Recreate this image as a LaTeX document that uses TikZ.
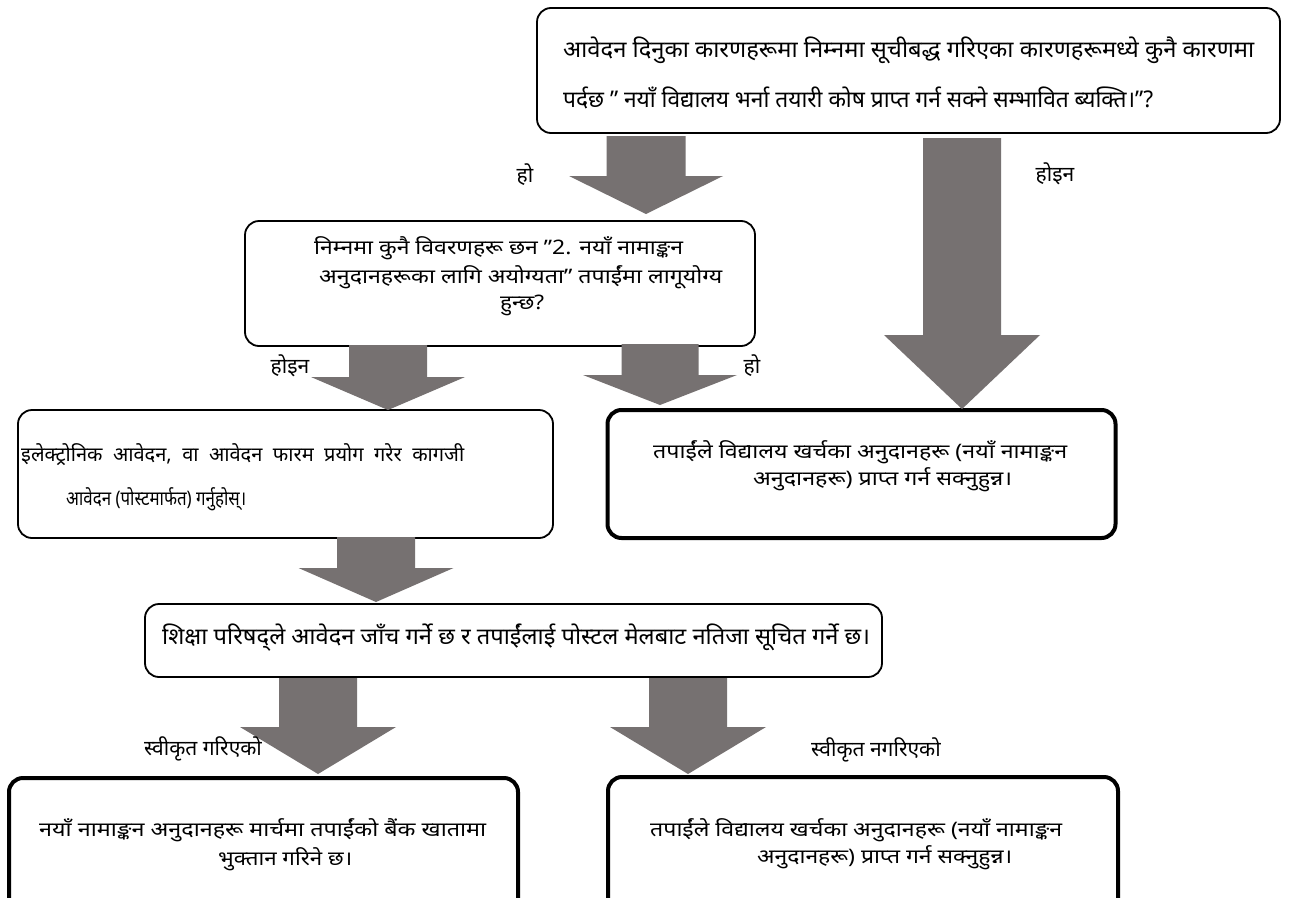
\documentclass[tikz,border=0pt]{standalone}
\usepackage{fontspec}
\usepackage{graphicx}
\setmainfont[Script=Devanagari]{Noto Sans}
\definecolor{arrowgray}{HTML}{767171}
\newcommand\fitw[2]{\resizebox{#1pt}{\height}{#2}}
\newcommand\blockarrow[6]{% cx, ytop, yhead, ytip, shaft half, head half
  \fill[arrowgray] ({#1-#5},#2) -- ({#1+#5},#2) -- ({#1+#5},#3) -- ({#1+#6},#3) -- (#1,#4) -- ({#1-#6},#3) -- ({#1-#5},#3) -- cycle;}
\tikzset{
  thinbox/.style={draw=black, line width=1.8pt, rounded corners=14pt, fill=white, inner sep=0pt},
  thickbox/.style={draw=black, line width=4pt, rounded corners=14pt, fill=white, inner sep=0pt},
  txt/.style={inner sep=0pt, font=\fontsize{20}{24}\selectfont, anchor=west},
  bigtxt/.style={inner sep=0pt, font=\fontsize{23}{27}\selectfont, anchor=west},
  lbl/.style={inner sep=0pt, font=\fontsize{21}{25}\selectfont},
}
\begin{document}
\begin{tikzpicture}[x=1pt,y=-1pt]
\clip (0,0) rectangle (1295,897);
\fill[white] (0,0) rectangle (1295,897);
% boxes
\node[thinbox, minimum width=743pt, minimum height=125pt] (q1) at (908.5,70.5) {};
\node[thinbox, minimum width=510pt, minimum height=125pt] (q2) at (500,283.5) {};
\node[thinbox, minimum width=535pt, minimum height=128pt] (apply) at (285.5,474) {};
\node[thickbox, minimum width=508pt, minimum height=128pt] (elig1) at (861.5,474) {};
\node[thinbox, minimum width=737pt, minimum height=73pt] (check) at (513.5,640.5) {};
\node[thickbox, minimum width=509pt, minimum height=145pt] (paid) at (263.5,850.5) {};
\node[thickbox, minimum width=510pt, minimum height=145pt] (elig2) at (863,849.5) {};
% texts
\node[bigtxt] (q1a) at (563,50) {\fitw{691}{आवेदन दिनुका कारणहरूमा निम्नमा सूचीबद्ध गरिएका कारणहरूमध्ये कुनै कारणमा}};
\node[bigtxt] (q1b) at (563,98) {\fitw{590}{पर्दछ " नयाँ विद्यालय भर्ना तयारी कोष प्राप्त गर्न सक्ने सम्भावित ब्यक्ति।"?}};
\node[txt] (q2a) at (314,248) {\fitw{369}{निम्नमा कुनै विवरणहरू छन "2. नयाँ नामाङ्कन}};
\node[txt] (q2b) at (319,277) {\fitw{403}{अनुदानहरूका लागि अयोग्यता" तपाईंमा लागूयोग्य}};
\node[txt] (q2c) at (500,305) {\fitw{44}{हुन्छ?}};
\node[txt] (ap1) at (21,455) {\fitw{443}{इलेक्ट्रोनिक~~आवेदन,~~वा~~आवेदन~~फारम~~प्रयोग~~गरेर~~कागजी}};
\node[txt] (ap2) at (66,499) {\fitw{180}{आवेदन (पोस्टमार्फत) गर्नुहोस्।}};
\node[txt] (e1a) at (653,452) {\fitw{414}{तपाईंले विद्यालय खर्चका अनुदानहरू (नयाँ नामाङ्कन}};
\node[txt] (e1b) at (753,480) {\fitw{259}{अनुदानहरू) प्राप्त गर्न सक्नुहुन्न।}};
\node[bigtxt] (ch) at (162,638) {\fitw{708}{शिक्षा परिषद्ले आवेदन जाँच गर्ने छ र तपाईंलाई पोस्टल मेलबाट नतिजा सूचित गर्ने छ।}};
\node[txt] (pa1) at (39,830) {\fitw{447}{नयाँ नामाङ्कन अनुदानहरू मार्चमा तपाईंको बैंक खातामा}};
\node[txt] (pa2) at (218,859) {\fitw{134}{भुक्तान गरिने छ।}};
\node[txt] (e2a) at (650,830) {\fitw{412}{तपाईंले विद्यालय खर्चका अनुदानहरू (नयाँ नामाङ्कन}};
\node[txt] (e2b) at (757,858) {\fitw{255}{अनुदानहरू) प्राप्त गर्न सक्नुहुन्न।}};
% arrows
\blockarrow{646}{136}{176}{214}{39.5}{77}
\blockarrow{962}{138}{335}{409}{39}{78}
\blockarrow{388}{345}{377}{410}{39}{77}
\blockarrow{660}{344}{375}{405}{38.5}{77}
\blockarrow{376}{537}{568}{602}{39}{77.5}
\blockarrow{318}{678}{727}{774}{39}{78}
\blockarrow{688}{678}{727}{774}{39}{78}
% labels
\node[lbl] (l1) at (525,175) {हो};
\node[lbl] (l2) at (1055,174) {होइन};
\node[lbl] (l3) at (290,366) {होइन};
\node[lbl] (l4) at (752,366) {हो};
\node[lbl] (l5) at (203,749) {स्वीकृत गरिएको};
\node[lbl] (l6) at (876,750) {स्वीकृत नगरिएको};
\end{tikzpicture}
\end{document}
